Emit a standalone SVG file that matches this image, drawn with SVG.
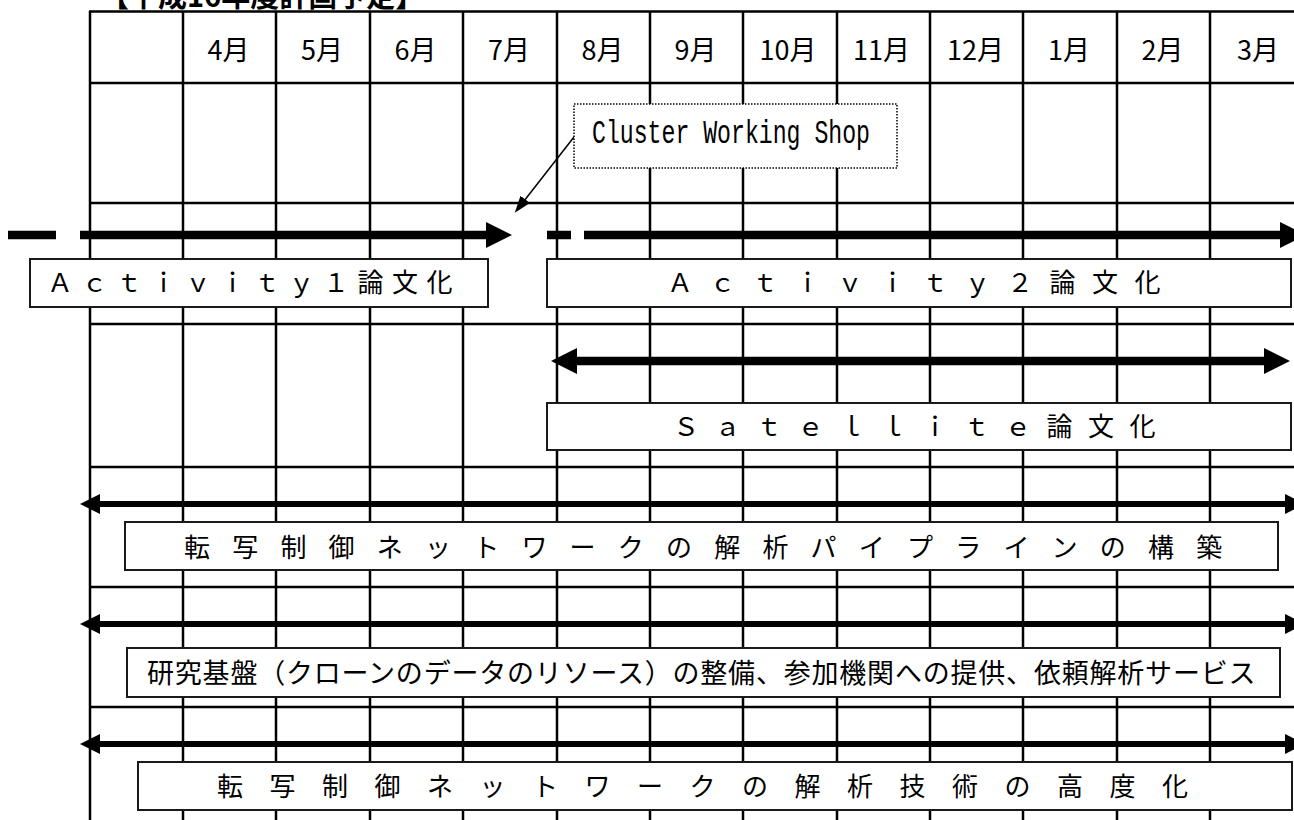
<svg xmlns="http://www.w3.org/2000/svg" width="1294" height="820" viewBox="0 0 1294 820">
<style>
.grid{stroke:#000;stroke-width:2.5;fill:none}
.box{fill:#fff;stroke:#1a1a1a;stroke-width:2}
.dot{fill:#fff;stroke:#000;stroke-width:1.5;stroke-dasharray:1.5 1.5}
.t{font-family:"Noto Sans CJK JP","Noto Sans CJK SC",sans-serif;fill:#000}
.m{font-size:27px;text-anchor:middle}
.thick{stroke:#000;stroke-width:8.5;fill:none}
.mid{stroke:#000;stroke-width:6;fill:none}
.thin{stroke:#000;stroke-width:1.5;fill:none}
</style>
<defs>
<marker id="hb" markerUnits="userSpaceOnUse" viewBox="0 0 26 26" markerWidth="26" markerHeight="26" refX="2" refY="13" orient="auto-start-reverse"><path d="M0,0L26,13L0,26z" fill="#000"/></marker>
<marker id="hs" markerUnits="userSpaceOnUse" viewBox="0 0 20 20" markerWidth="20" markerHeight="20" refX="2" refY="10" orient="auto-start-reverse"><path d="M0,0L20,10L0,20z" fill="#000"/></marker>
<marker id="hc" markerUnits="userSpaceOnUse" viewBox="0 0 17 12" markerWidth="17" markerHeight="12" refX="2" refY="6" orient="auto"><path d="M0,0L17,6L0,12z" fill="#000"/></marker>
</defs>
<rect width="1294" height="820" fill="#fff"/>
<text class="t" x="100" y="6.5" font-size="29" font-weight="bold">【平成16年度計画予定】</text>
<g id="grid">
<path class="grid" d="M90,11V820M183,11V820M276,11V820M370,11V820M463,11V820M557,11V820M650,11V820M743,11V820M837,11V820M930,11V820M1023,11V820M1117,11V820M1210,11V820"/>
<path class="grid" d="M89,11.5H1294M90,83H1294M90,203H1294M90,324H1294M90,467H1294M90,587H1294M90,707H1294"/>
</g>
<g id="months" class="t m">
<text x="228.5" y="60">4月</text>
<text x="322" y="60">5月</text>
<text x="415.5" y="60">6月</text>
<text x="509" y="60">7月</text>
<text x="602.5" y="60">8月</text>
<text x="695.5" y="60">9月</text>
<text x="788" y="60">10月</text>
<text x="881.5" y="60">11月</text>
<text x="975.5" y="60">12月</text>
<text x="1069" y="60">1月</text>
<text x="1162.5" y="60">2月</text>
<text x="1258" y="60">3月</text>
</g>
<g id="connectors">
<line class="thick" x1="8" y1="235" x2="56" y2="235"/>
<line class="thick" x1="80" y1="235" x2="488" y2="235" marker-end="url(#hb)"/>
<line class="thick" x1="547" y1="235" x2="571" y2="235"/>
<line class="thick" x1="584" y1="235" x2="1282" y2="235" marker-end="url(#hb)"/>
<line class="thick" x1="575" y1="361" x2="1266" y2="361" marker-start="url(#hb)" marker-end="url(#hb)"/>
<line class="mid" x1="98" y1="504" x2="1287" y2="504" marker-start="url(#hs)" marker-end="url(#hs)"/>
<line class="mid" x1="98" y1="624" x2="1287" y2="624" marker-start="url(#hs)" marker-end="url(#hs)"/>
<line class="mid" x1="98" y1="744" x2="1287" y2="744" marker-start="url(#hs)" marker-end="url(#hs)"/>
<line class="thin" x1="574" y1="137" x2="524" y2="201" marker-end="url(#hc)"/>
</g>
<g id="cluster">
<rect class="dot" x="574" y="104" width="323" height="64"/>
<text x="592" y="143" font-family="Liberation Mono, monospace" font-size="34" textLength="278" lengthAdjust="spacingAndGlyphs">Cluster Working Shop</text>
</g>
<g id="activity1">
<rect class="box" x="30" y="259" width="458" height="48"/>
<text class="t" x="47" y="292" font-size="26" letter-spacing="8.5">Ａｃｔｉｖｉｔｙ１論文化</text>
</g>
<g id="activity2">
<rect class="box" x="547" y="259" width="744" height="48"/>
<text class="t" x="667" y="292" font-size="26" letter-spacing="16.5">Ａｃｔｉｖｉｔｙ２論文化</text>
</g>
<g id="satellite">
<rect class="box" x="547" y="403" width="744" height="47"/>
<text class="t" x="673" y="436" font-size="26" letter-spacing="15.5">Ｓａｔｅｌｌｉｔｅ論文化</text>
</g>
<g id="pipeline">
<rect class="box" x="125" y="522" width="1153" height="48"/>
<text class="t" x="184" y="557" font-size="26" letter-spacing="22.2">転写制御ネットワークの解析パイプラインの構築</text>
</g>
<g id="infrastructure">
<rect class="box" x="127" y="648" width="1153" height="49"/>
<text class="t" x="147" y="683" font-size="27" letter-spacing="0.8">研究基盤（クローンのデータのリソース）の整備、参加機関への提供、依頼解析サービス</text>
</g>
<g id="advanced">
<rect class="box" x="138" y="762" width="1154" height="48"/>
<text class="t" x="217" y="796" font-size="26" letter-spacing="26.5">転写制御ネットワークの解析技術の高度化</text>
</g>
</svg>
